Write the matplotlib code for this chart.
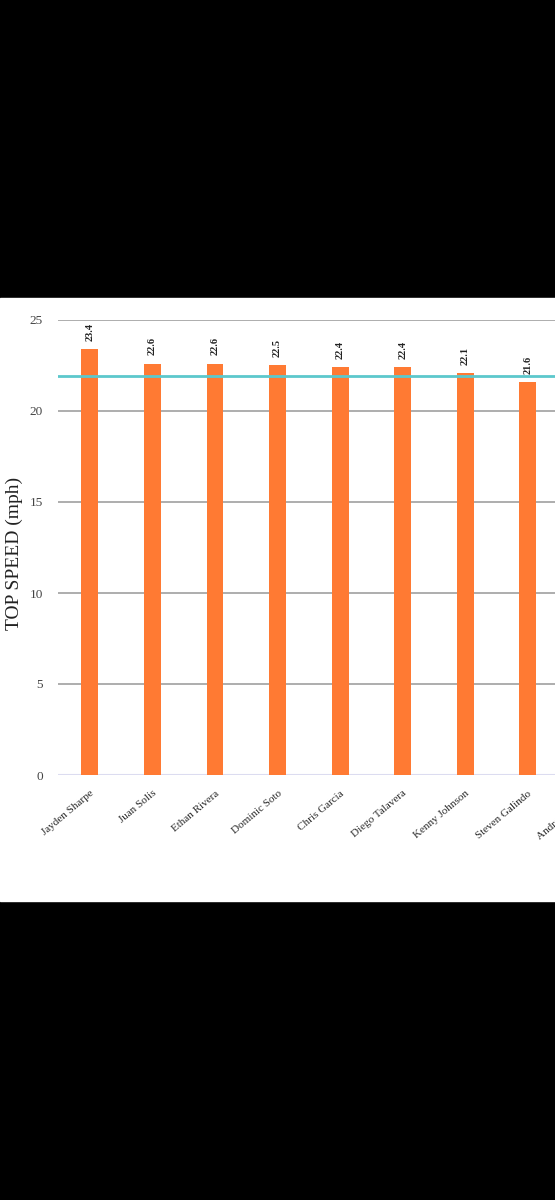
import numpy as np
import matplotlib
matplotlib.use('Agg')
import matplotlib.pyplot as plt
from matplotlib.patches import Rectangle

players = ['Jayden Sharpe', 'Juan Solis', 'Ethan Rivera', 'Dominic Soto',
           'Chris Garcia', 'Diego Talavera', 'Kenny Johnson', 'Steven Galindo',
           'Andrew Salazar']
speeds = [23.4, 22.6, 22.6, 22.5, 22.4, 22.4, 22.1, 21.6]
avg_speed = 21.9
yticks = [0, 5, 10, 15, 20, 25]

matplotlib.rcParams['font.family'] = ['Liberation Serif', 'DejaVu Serif']

fig = plt.figure(figsize=(5.55, 12), dpi=100)
fig.patch.set_facecolor('black')
# white screenshot band between the black bars
fig.add_artist(Rectangle((0, 1 - 901/1200), 1, (901-298)/1200,
                         transform=fig.transFigure, color='white', zorder=0))

ax = fig.add_axes([58/555, 425/1200, 563/555, 455/1200])
ax.set_facecolor('white')

x = np.arange(len(speeds))
ax.bar(x, speeds, width=0.27, color='#ff7a33', zorder=3)
for xi, v in zip(x, speeds):
    ax.text(xi, v + 0.45, '{:.1f}'.format(v), rotation=90, ha='center', va='bottom',
            fontsize=7.5, fontweight='bold', color='#222222')

ax.axhline(avg_speed, color='#5cc8cc', lw=2, zorder=4)

for yt in yticks[1:]:
    ax.axhline(yt, color='#a0a0a0', lw=1.2, zorder=1)
ax.axhline(0, color='#dcdcf0', lw=1.5, zorder=1)

ax.set_xlim(-0.51, len(players) - 0.51)
ax.set_ylim(0, 25)
ax.set_yticks(yticks)
ax.set_yticklabels([str(t) for t in yticks], fontsize=9.5, color='#444444')
ax.set_xticks(np.arange(len(players)))
ax.set_xticklabels(players, rotation=40, ha='right', rotation_mode='anchor',
                   fontsize=8, color='#2a2a2a')
ax.tick_params(axis='both', length=0)
ax.tick_params(axis='y', pad=11)
ax.tick_params(axis='x', pad=10)
for s in ax.spines.values():
    s.set_visible(False)

fig.text(14/555, 1 - 553/1200, 'TOP SPEED (mph)', rotation=90, ha='center', va='center',
         fontsize=14, color='#222222')

fig.savefig('out.png', dpi=100, facecolor=fig.get_facecolor())
